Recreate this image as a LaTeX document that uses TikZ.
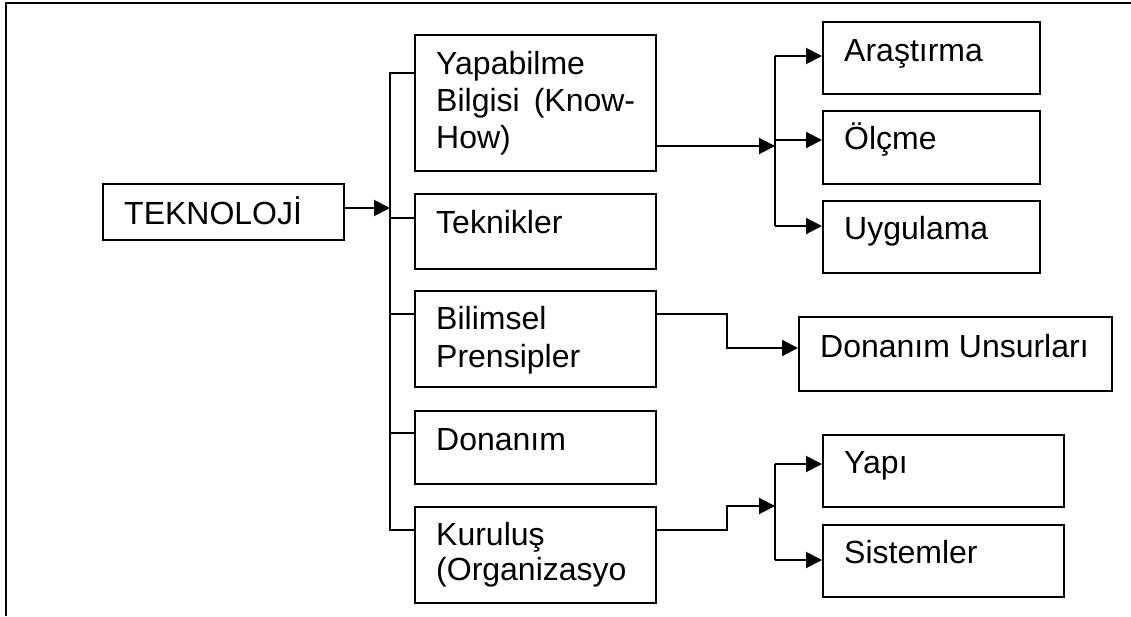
\documentclass[tikz,border=0pt]{standalone}
\usepackage{fontspec}
\setmainfont{Liberation Sans}
\usetikzlibrary{arrows.meta,calc}
\newcommand\mybox[5]{\node[box, minimum width={#4-#2}, minimum height={#5-#3}] (#1) at (#2,#3) {};}
\begin{document}
\begin{tikzpicture}[x=1pt,y=-1pt,
  box/.style={draw, line width=2pt, inner sep=0pt, anchor=north west},
  txt/.style={font=\fontsize{32}{37}\selectfont, inner sep=0pt, anchor=base west},
  conn/.style={line width=2pt},
  arr/.style={line width=2pt, -{Triangle[length=16pt,width=16pt]}}]
\fill[white] (0,0) rectangle (1131,616);
\useasboundingbox (0,0) rectangle (1131,616);
% cropped outer frame
\draw[line width=2pt] (5.5,616) -- (5.5,2.5) -- (1131,2.5);
% boxes
\mybox{tek}{102}{183}{343}{239}
\mybox{yap}{414}{34}{655}{170}
\mybox{tekn}{414}{193}{655}{268}
\mybox{bil}{414}{290}{655}{386}
\mybox{don}{414}{410}{655}{483}
\mybox{kur}{414}{506}{655}{602}
\mybox{ara}{822}{21}{1039}{93}
\mybox{olc}{822}{110}{1039}{183}
\mybox{uyg}{822}{200}{1039}{272}
\mybox{du}{798}{316}{1111}{390}
\mybox{yapi}{822}{434}{1063}{506}
\mybox{sis}{822}{524}{1063}{596}
% texts
\node[txt] (tTek) at (124,224) {TEKNOLOJİ};
\node[txt] (tYapA) at (436,74) {Yapabilme};
\node[txt] (tYapB) at (436,111) {\makebox[199pt][s]{Bilgisi (Know-}};
\node[txt] (tYapC) at (436,148) {How)};
\node[txt] (tTekn) at (436,233) {Teknikler};
\node[txt] (tBilA) at (436,329) {Bilimsel};
\node[txt] (tBilB) at (436,367) {Prensipler};
\node[txt] (tDon) at (436,450) {Donanım};
\node[txt] (tKurA) at (436,545) {Kuruluş};
\node[txt] (tKurB) at (436,580) {(Organizasyo};
\node[txt] (tAra) at (844,61) {Araştırma};
\node[txt] (tOlc) at (844,149) {Ölçme};
\node[txt] (tUyg) at (844,239) {Uygulama};
\node[txt] (tDu) at (820,357) {Donanım Unsurları};
\node[txt] (tYapi) at (844,473) {Yapı};
\node[txt] (tSis) at (844,563) {Sistemler};
% bus 1
\coordinate (j1) at (390,208);
\coordinate (b1t) at (390,73);
\coordinate (b1b) at (390,530);
\coordinate (b1k) at (390,218);
\coordinate (b1p) at (390,314);
\coordinate (b1d) at (390,433);
\draw[arr] (tek.east |- j1) -- (j1);
\draw[conn] (yap.west |- b1t) -- (b1t) -- (b1b) -- (kur.west |- b1b);
\draw[conn] (b1k) -- (tekn.west |- b1k);
\draw[conn] (b1p) -- (bil.west |- b1p);
\draw[conn] (b1d) -- (don.west |- b1d);
% bus 2
\coordinate (j2) at (775,146);
\coordinate (b2t) at (775,56);
\coordinate (b2m) at (775,140);
\coordinate (b2b) at (775,226);
\draw[arr] (yap.east |- j2) -- (j2);
\draw[conn] (b2t) -- (b2b);
\draw[arr] (b2t) -- (ara.west |- b2t);
\draw[arr] (b2m) -- (olc.west |- b2m);
\draw[arr] (b2b) -- (uyg.west |- b2b);
% Bilimsel -> Donanim Unsurlari
\coordinate (k1) at (727,314);
\coordinate (k2) at (727,348);
\draw[arr] (bil.east |- k1) -- (k1) -- (k2) -- (du.west |- k2);
% Kurulus -> bus 3
\coordinate (k3) at (727,530);
\coordinate (k4) at (727,506);
\coordinate (j3) at (775,506);
\coordinate (b3t) at (775,464);
\coordinate (b3b) at (775,560);
\draw[arr] (kur.east |- k3) -- (k3) -- (k4) -- (j3);
\draw[conn] (b3t) -- (b3b);
\draw[arr] (b3t) -- (yapi.west |- b3t);
\draw[arr] (b3b) -- (sis.west |- b3b);
\end{tikzpicture}
\end{document}
